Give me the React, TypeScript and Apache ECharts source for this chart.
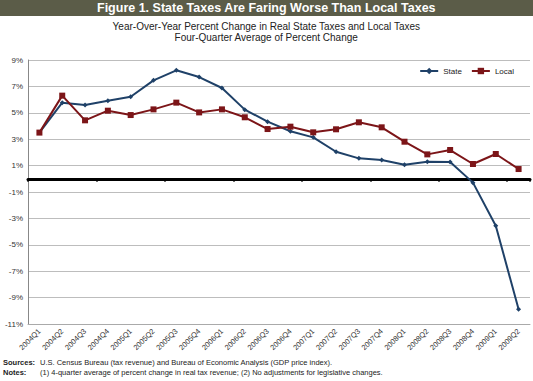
import React, { useEffect, useRef } from "react";
import * as echarts from "echarts";

const categories = [
  "2004Q1", "2004Q2", "2004Q3", "2004Q4",
  "2005Q1", "2005Q2", "2005Q3", "2005Q4",
  "2006Q1", "2006Q2", "2006Q3", "2006Q4",
  "2007Q1", "2007Q2", "2007Q3", "2007Q4",
  "2008Q1", "2008Q2", "2008Q3", "2008Q4",
  "2009Q1", "2009Q2",
];

const stateValues = [
  3.5, 5.77, 5.59, 5.92,
  6.22, 7.46, 8.22, 7.71,
  6.88, 5.24, 4.33, 3.6,
  3.14, 2.05, 1.55, 1.42,
  1.07, 1.3, 1.27, -0.29,
  -3.55, -9.89,
];

const localValues = [
  3.5, 6.3, 4.43, 5.16,
  4.83, 5.26, 5.77, 5.03,
  5.26, 4.66, 3.77, 3.95,
  3.52, 3.75, 4.28, 3.9,
  2.81, 1.85, 2.18, 1.12,
  1.88, 0.74,
];

const yMin = -11;
const yMax = 9;
const yStep = 2;

const figureTitle = "Figure 1. State Taxes Are Faring Worse Than Local Taxes";
const subTitle1 = "Year-Over-Year Percent Change in Real State Taxes and Local Taxes";
const subTitle2 = "Four-Quarter Average of Percent Change";
const sourcesText = "U.S. Census Bureau (tax revenue) and Bureau of Economic Analysis (GDP price index).";
const notesText = "(1) 4-quarter average of percent change in real tax revenue; (2) No adjustments for legislative changes.";

const FONT = "Liberation Sans, Arial, sans-serif";

export default function App() {
  const ref = useRef<HTMLDivElement>(null);

  useEffect(() => {
    document.body.style.margin = "0";
    const chart = echarts.init(ref.current!, null, { renderer: "svg" });
    chart.setOption({
      animation: false,
      backgroundColor: "#ffffff",
      textStyle: { fontFamily: FONT },
      graphic: [
        {
          type: "rect",
          left: 0,
          top: 0,
          shape: { width: 533, height: 16 },
          style: { fill: "#5b5c48" },
        },
        {
          type: "text",
          left: "center",
          top: 1,
          style: {
            text: figureTitle,
            fill: "#ffffff",
            font: `bold 12.5px ${FONT}`,
          },
        },
        {
          type: "text",
          left: "center",
          top: 21,
          style: {
            text: subTitle1,
            fill: "#222222",
            font: `10px ${FONT}`,
          },
        },
        {
          type: "text",
          left: "center",
          top: 32,
          style: {
            text: subTitle2,
            fill: "#222222",
            font: `10px ${FONT}`,
          },
        },
        {
          type: "text",
          left: 3,
          top: 358,
          style: { text: "Sources:", fill: "#222", font: `bold 7.5px ${FONT}` },
        },
        {
          type: "text",
          left: 40,
          top: 358,
          style: { text: sourcesText, fill: "#222", font: `7.5px ${FONT}` },
        },
        {
          type: "text",
          left: 3,
          top: 368,
          style: { text: "Notes:", fill: "#222", font: `bold 7.5px ${FONT}` },
        },
        {
          type: "text",
          left: 40,
          top: 368,
          style: { text: notesText, fill: "#222", font: `7.5px ${FONT}` },
        },
      ],
      legend: {
        data: ["State", "Local"],
        right: 14,
        top: 62,
        itemWidth: 18,
        itemHeight: 8,
        itemGap: 9,
        textStyle: { fontSize: 8, color: "#222", fontFamily: FONT },
      },
      grid: { left: 28, right: 3, top: 60, bottom: 57, containLabel: false },
      xAxis: [
        {
          type: "category",
          data: categories,
          position: "bottom",
          boundaryGap: true,
          axisLine: { onZero: false, lineStyle: { color: "#aaaaaa", width: 1 } },
          axisTick: { show: false },
          axisLabel: {
            rotate: 45,
            fontSize: 7.5,
            color: "#333",
            margin: 6,
            interval: 0,
            fontFamily: FONT,
          },
          splitLine: { show: false },
        },
        {
          type: "category",
          data: categories,
          position: "bottom",
          boundaryGap: true,
          axisLine: { onZero: true, lineStyle: { color: "#000000", width: 3 } },
          axisTick: { show: true, length: 3, lineStyle: { color: "#000", width: 1.5 } },
          axisLabel: { show: false },
          splitLine: { show: false },
        },
      ],
      yAxis: {
        type: "value",
        min: yMin,
        max: yMax,
        interval: yStep,
        axisLine: { show: true, lineStyle: { color: "#888888", width: 1 } },
        axisTick: { show: false },
        axisLabel: {
          formatter: (v: number) => `${v}%`,
          fontSize: 8,
          color: "#333",
          margin: 5,
          fontFamily: FONT,
        },
        splitLine: { show: true, lineStyle: { color: "#bdbdbd", width: 1 } },
      },
      series: [
        {
          name: "State",
          type: "line",
          xAxisIndex: 0,
          data: stateValues,
          symbol: "diamond",
          symbolSize: 5,
          color: "#1f4168",
          lineStyle: { width: 2, color: "#1f4168" },
          itemStyle: { color: "#1f4168" },
        },
        {
          name: "Local",
          type: "line",
          xAxisIndex: 0,
          data: localValues,
          symbol: "rect",
          symbolSize: 6,
          color: "#7c1518",
          lineStyle: { width: 2, color: "#7c1518" },
          itemStyle: { color: "#7c1518" },
        },
      ],
    });
    return () => chart.dispose();
  }, []);

  return <div ref={ref} style={{ width: 533, height: 381 }} />;
}
